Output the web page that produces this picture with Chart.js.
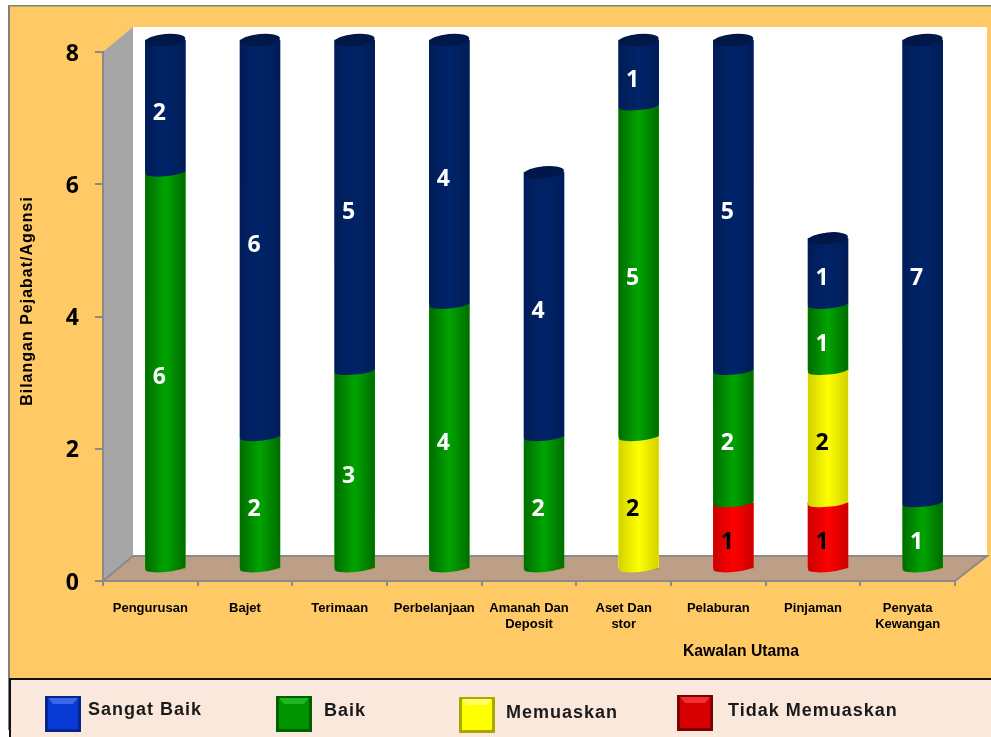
<!DOCTYPE html>
<html>
<head>
<meta charset="utf-8">
<title>Kawalan Utama</title>
<script src="https://cdn.jsdelivr.net/npm/chart.js@4"></script>
<style>
    html, body { margin: 0; padding: 0; background: #fff; overflow: hidden; }
    canvas { display: block; }
</style>
</head>
<body>
<canvas id="kawalanChart" width="991" height="737"></canvas>
<script>
const categories = ['Pengurusan', 'Bajet', 'Terimaan', 'Perbelanjaan', ['Amanah Dan', 'Deposit'],
    ['Aset Dan', 'stor'], 'Pelaburan', 'Pinjaman', ['Penyata', 'Kewangan']];
const tidakMemuaskan = [0, 0, 0, 0, 0, 0, 1, 1, 0];
const memuaskan = [0, 0, 0, 0, 0, 2, 0, 2, 0];
const baik = [6, 2, 3, 4, 2, 5, 2, 1, 1];
const sangatBaik = [2, 6, 5, 4, 4, 1, 5, 1, 7];
const yTitle = 'Bilangan Pejabat/Agensi';
const xTitle = 'Kawalan Utama';
const legendNames = ['Sangat Baik', 'Baik', 'Memuaskan', 'Tidak Memuaskan'];

// edge, middle colours of the cylinders
const NAVY = ['#001c58', '#002468'];
const GREEN = ['#006c00', '#00a400'];
const YELLOW = ['#d2d200', '#ffff00'];
const RED = ['#cc0000', '#ff0000'];

const DEPTH_X = 15, DEPTH_Y = 12; // bars stand back on the floor
const ROT = -0.09, CAP = 4, TOP_CAP = 6;

// orange panel, side wall, back wall and floor
const backdrop = {
    id: 'backdrop',
    beforeDraw(chart) {
        const c = chart.ctx;
        const x0 = chart.scales.x.left, x1 = chart.scales.x.right;
        const yb = chart.scales.y.getPixelForValue(0), yt = chart.scales.y.getPixelForValue(8);

        c.save();
        c.fillStyle = '#ffc966';
        c.fillRect(9, 5, 982, 673);
        c.fillStyle = '#808080';
        c.fillRect(8, 5, 983, 1.5);
        c.fillRect(8, 5, 2, 725);

        c.fillStyle = '#ffffff';
        c.fillRect(x0 + 30, yt - 25, x1 + 32 - x0 - 30, yb - yt);

        c.fillStyle = '#a6a6a6';
        c.beginPath();
        c.moveTo(x0, yt); c.lineTo(x0 + 30, yt - 25); c.lineTo(x0 + 30, yb - 25); c.lineTo(x0, yb);
        c.closePath(); c.fill();

        c.fillStyle = '#bd9f87';
        c.beginPath();
        c.moveTo(x0, yb); c.lineTo(x0 + 30, yb - 25); c.lineTo(x1 + 32, yb - 25); c.lineTo(x1, yb);
        c.closePath(); c.fill();
        c.strokeStyle = '#8a8a8a';
        c.lineWidth = 2;
        c.beginPath();
        c.moveTo(x0, yb); c.lineTo(x0 + 30, yb - 25); c.lineTo(x1 + 32, yb - 25); c.lineTo(x1, yb);
        c.stroke();

        // legend strip
        c.fillStyle = '#fbe8dc';
        c.fillRect(10, 678, 981, 59);
        c.fillStyle = '#111111';
        c.fillRect(9, 678, 982, 2);
        c.fillRect(9, 678, 2, 59);
        c.restore();
    }
};

// rounds the library's bars into cylinders
const cylinders = {
    id: 'cylinders',
    beforeDatasetsDraw(chart) {
        chart.ctx.save();
        chart.ctx.translate(DEPTH_X, -DEPTH_Y);
    },
    afterDatasetsDraw(chart) {
        const c = chart.ctx;
        categories.forEach((_, i) => {
            let top = null;
            chart.data.datasets.forEach((ds, d) => {
                if (!ds.data[i]) return;
                const bar = chart.getDatasetMeta(d).data[i];
                const r = bar.width / 2;
                const g = c.createLinearGradient(bar.x - r, 0, bar.x + r, 0);
                g.addColorStop(0, ds.shades[0]);
                g.addColorStop(0.5, ds.shades[1]);
                g.addColorStop(1, ds.shades[0]);
                c.fillStyle = g;
                c.beginPath();
                c.ellipse(bar.x, bar.base, r, CAP, ROT, 0, Math.PI);
                c.lineTo(bar.x - r, bar.y);
                c.lineTo(bar.x + r, bar.y);
                c.closePath();
                c.fill();
                top = bar;
            });
            c.fillStyle = '#00174a';
            c.beginPath();
            c.ellipse(top.x, top.y, top.width / 2, TOP_CAP, ROT, 0, Math.PI * 2);
            c.fill();
        });
        c.restore();

        // value labels sit left of the cylinder axis
        c.save();
        c.font = 'bold 23px "Open Sans"';
        c.textAlign = 'center';
        c.textBaseline = 'middle';
        chart.data.datasets.forEach((ds, d) => {
            ds.data.forEach((v, i) => {
                if (!v) return;
                const bar = chart.getDatasetMeta(d).data[i];
                c.fillStyle = ds.labelColor;
                c.fillText(v, bar.x + 9, (bar.y + bar.base) / 2 - 5);
            });
        });
        c.restore();
    }
};

// axis titles and the legend strip
const notes = {
    id: 'notes',
    afterDraw(chart) {
        const c = chart.ctx;
        c.save();
        c.fillStyle = '#000';
        c.textAlign = 'center';
        c.textBaseline = 'middle';
        c.font = 'bold 15.7px "Liberation Sans"';
        c.fillText(xTitle, 741, 652);
        c.translate(28, 301);
        c.rotate(-Math.PI / 2);
        c.font = 'bold 16px "Liberation Sans"';
        c.letterSpacing = '1px';
        c.fillText(yTitle, 0, 0);
        c.restore();

        const swatchX = [45, 276, 459, 677];
        const swatchY = [696, 696, 697, 695];
        const textX = [88, 324, 506, 728];
        const textY = [710, 711, 713, 711];
        const swatches = [
            ['#0a3ad6', '#06268f', '#3a66ea'],
            ['#009400', '#005f00', '#22b522'],
            ['#ffff00', '#a8a800', '#ffff66'],
            ['#d80000', '#7e0000', '#f03030']
        ];
        legendNames.forEach((name, i) => {
            const x = swatchX[i], y = swatchY[i], s = 36;
            const col = swatches[i];
            c.fillStyle = col[1];
            c.fillRect(x, y, s, s);
            c.fillStyle = col[0];
            c.fillRect(x + 3, y + 3, s - 6, s - 6);
            c.fillStyle = col[2];
            c.beginPath();
            c.moveTo(x + 3, y + 2); c.lineTo(x + s - 3, y + 2); c.lineTo(x + s - 8, y + 8); c.lineTo(x + 8, y + 8);
            c.closePath(); c.fill();

            c.save();
            c.fillStyle = '#1a1a1a';
            c.font = 'bold 18px "Liberation Sans"';
            c.letterSpacing = '1px';
            c.textBaseline = 'middle';
            c.fillText(name, textX[i], textY[i]);
            c.restore();
        });
    }
};

function series(label, data, shades, labelColor) {
    return { label, data, shades, labelColor, backgroundColor: shades[1], barThickness: 40, clip: false };
}

new Chart(document.getElementById('kawalanChart'), {
    type: 'bar',
    data: {
        labels: categories,
        datasets: [
            series(legendNames[3], tidakMemuaskan, RED, '#000'),
            series(legendNames[2], memuaskan, YELLOW, '#000'),
            series(legendNames[1], baik, GREEN, '#fff'),
            series(legendNames[0], sangatBaik, NAVY, '#fff')
        ]
    },
    options: {
        responsive: false,
        animation: false,
        layout: { padding: { top: 52, right: 36, left: 0, bottom: 0 } },
        plugins: { legend: { display: false }, tooltip: { enabled: false } },
        scales: {
            x: {
                stacked: true,
                afterFit(scale) { scale.height = 156; },
                border: { color: '#8a8a8a', width: 2 },
                grid: { drawOnChartArea: false, color: '#8a8a8a', tickLength: 5, lineWidth: 2 },
                ticks: { color: '#000', font: { family: 'Liberation Sans', weight: 'bold', size: 13 }, padding: 15, maxRotation: 0, autoSkip: false }
            },
            y: {
                stacked: true,
                min: 0,
                max: 8,
                afterFit(scale) { scale.width = 103; },
                border: { color: '#8a8a8a', width: 2 },
                grid: { drawOnChartArea: false, color: '#8a8a8a', tickLength: 8, lineWidth: 2 },
                ticks: { stepSize: 2, color: '#000', font: { family: 'Open Sans', weight: 'bold', size: 23 }, padding: 16, labelOffset: 2 }
            }
        }
    },
    plugins: [backdrop, cylinders, notes]
});
</script>
</body>
</html>
